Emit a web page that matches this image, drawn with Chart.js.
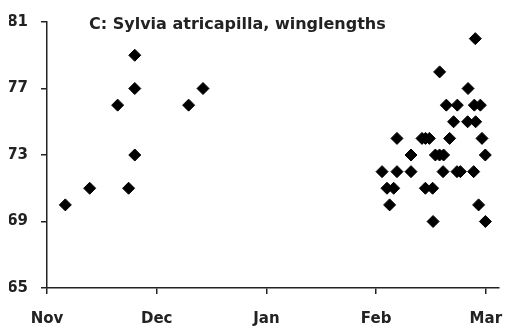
<!DOCTYPE html>
<html>
<head>
<meta charset="utf-8">
<script src="https://cdn.jsdelivr.net/npm/chart.js@4/dist/chart.umd.min.js"></script>
<style>
  html, body { margin: 0; padding: 0; background: #fff; }
  #wrap { width: 506px; height: 329px; }
</style>
</head>
<body>
<div id="wrap"><canvas id="chart"></canvas></div>
<script>
// winglength data: x = months since 1 Nov, y = winglength (mm)
const monthLabels = ["Nov", "Dec", "Jan", "Feb", "Mar"];
const yTicks = [65, 69, 73, 77, 81];
const titleText = "C: Sylvia atricapilla, winglengths";

const monthPos = [
  0.167, 0.389, 0.644, 0.744, 0.80, 0.80, 0.80, 1.291, 1.422,
  3.904,
  3.579,
  3.838,
  3.640, 3.740, 3.895, 3.950,
  3.706, 3.834, 3.907,
  3.190, 3.418, 3.450, 3.485, 3.670, 3.965,
  3.318, 3.540, 3.578, 3.615, 3.995,
  3.054, 3.190, 3.318, 3.610, 3.737, 3.768, 3.889,
  3.099, 3.160, 3.449, 3.515,
  3.123, 3.934,
  3.519, 3.996
];
const wingLength = [
  70, 71, 76, 71, 79, 77, 73, 76, 77,
  80,
  78,
  77,
  76, 76, 76, 76,
  75, 75, 75,
  74, 74, 74, 74, 74, 74,
  73, 73, 73, 73, 73,
  72, 72, 72, 72, 72, 72, 72,
  71, 71, 71, 71,
  70, 70,
  69, 69
];

const ink = "#222";
const font = "'DejaVu Sans', sans-serif";

const points = monthPos.map((x, i) => ({ x, y: wingLength[i] }));

// title drawn inside the plot area
const titlePlugin = {
  id: "insideTitle",
  afterDraw(chart) {
    const ctx = chart.ctx;
    const area = chart.chartArea;
    ctx.save();
    ctx.fillStyle = ink;
    ctx.font = "bold 16px " + font;
    ctx.textAlign = "left";
    ctx.textBaseline = "middle";
    ctx.fillText(titleText, area.left + 42, 25);
    ctx.restore();
  }
};

new Chart(document.getElementById("chart"), {
  type: "scatter",
  data: {
    datasets: [{
      data: points,
      pointStyle: "rectRot",
      pointRadius: 6,
      pointHoverRadius: 6,
      backgroundColor: "#000",
      borderColor: "#000",
      borderWidth: 1
    }]
  },
  options: {
    responsive: true,
    maintainAspectRatio: false,
    animation: false,
    events: [],
    layout: { padding: { left: 9, right: 2, top: 10, bottom: 2 } },
    plugins: { legend: { display: false }, tooltip: { enabled: false } },
    scales: {
      x: {
        type: "linear",
        min: 0,
        max: 4.12,
        afterBuildTicks: (scale) => { scale.ticks = monthLabels.map((_, i) => ({ value: i })); },
        afterFit: (scale) => { scale.height = 39; },
        ticks: {
          callback: (v) => monthLabels[v] ?? "",
          color: ink,
          // tall line box pushes the labels down without adding side padding
          font: { family: font, size: 15, weight: "bold", lineHeight: "46px" },
          padding: 2,
          maxRotation: 0,
          autoSkip: false
        },
        grid: { display: true, drawOnChartArea: false, drawTicks: true, tickLength: 6, color: ink, lineWidth: 1.5 },
        border: { display: true, color: ink, width: 1.5 }
      },
      y: {
        min: 65,
        max: 81,
        afterBuildTicks: (scale) => { scale.ticks = yTicks.map(v => ({ value: v })); },
        afterFit: (scale) => { scale.width = 38; },
        ticks: {
          color: ink,
          font: { family: font, size: 15, weight: "bold" },
          padding: 13
        },
        grid: { display: true, drawOnChartArea: false, drawTicks: true, tickLength: 6, color: ink, lineWidth: 1.5 },
        border: { display: true, color: ink, width: 1.5 }
      }
    }
  },
  plugins: [titlePlugin]
});
</script>
</body>
</html>
